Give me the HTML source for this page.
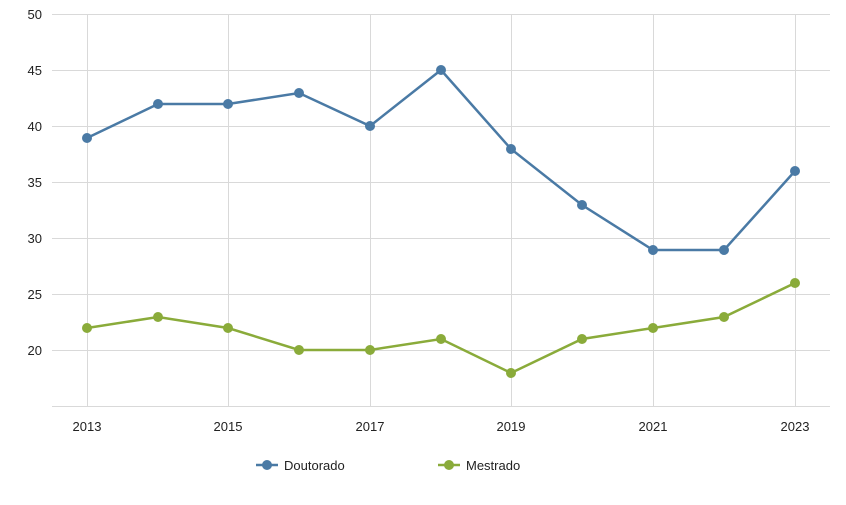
<!DOCTYPE html>
<html><head><meta charset="utf-8"><style>
body{margin:0;background:#fff}
text{font-family:"Liberation Sans",sans-serif;font-size:13px;fill:#222}
</style></head><body>
<svg width="846" height="500" xmlns="http://www.w3.org/2000/svg">
<g stroke="#d9d9d9" stroke-width="1">
<line x1="52" y1="14.5" x2="830" y2="14.5"/>
<line x1="52" y1="70.5" x2="830" y2="70.5"/>
<line x1="52" y1="126.5" x2="830" y2="126.5"/>
<line x1="52" y1="182.5" x2="830" y2="182.5"/>
<line x1="52" y1="238.5" x2="830" y2="238.5"/>
<line x1="52" y1="294.5" x2="830" y2="294.5"/>
<line x1="52" y1="350.5" x2="830" y2="350.5"/>
<line x1="52" y1="406.5" x2="830" y2="406.5"/>
<line x1="87.5" y1="14" x2="87.5" y2="406"/>
<line x1="228.5" y1="14" x2="228.5" y2="406"/>
<line x1="370.5" y1="14" x2="370.5" y2="406"/>
<line x1="511.5" y1="14" x2="511.5" y2="406"/>
<line x1="653.5" y1="14" x2="653.5" y2="406"/>
<line x1="795.5" y1="14" x2="795.5" y2="406"/>
</g>
<g text-anchor="end">
<text x="42" y="19">50</text><text x="42" y="75">45</text><text x="42" y="131">40</text>
<text x="42" y="187">35</text><text x="42" y="243">30</text><text x="42" y="299">25</text>
<text x="42" y="355">20</text>
</g>
<g text-anchor="middle">
<text x="87" y="431">2013</text><text x="228" y="431">2015</text><text x="370" y="431">2017</text>
<text x="511" y="431">2019</text><text x="653" y="431">2021</text><text x="795" y="431">2023</text>
</g>
<polyline fill="none" stroke="#4a7aa5" stroke-width="2.5" points="87,138 158,104 228,104 299,93 370,126 441,70 511,149 582,205 653,250 724,250 795,171"/>
<g fill="#4a7aa5">
<circle cx="87" cy="138" r="5"/><circle cx="158" cy="104" r="5"/><circle cx="228" cy="104" r="5"/><circle cx="299" cy="93" r="5"/><circle cx="370" cy="126" r="5"/><circle cx="441" cy="70" r="5"/><circle cx="511" cy="149" r="5"/><circle cx="582" cy="205" r="5"/><circle cx="653" cy="250" r="5"/><circle cx="724" cy="250" r="5"/><circle cx="795" cy="171" r="5"/>
</g>
<polyline fill="none" stroke="#8aab3a" stroke-width="2.5" points="87,328 158,317 228,328 299,350 370,350 441,339 511,373 582,339 653,328 724,317 795,283"/>
<g fill="#8aab3a">
<circle cx="87" cy="328" r="5"/><circle cx="158" cy="317" r="5"/><circle cx="228" cy="328" r="5"/><circle cx="299" cy="350" r="5"/><circle cx="370" cy="350" r="5"/><circle cx="441" cy="339" r="5"/><circle cx="511" cy="373" r="5"/><circle cx="582" cy="339" r="5"/><circle cx="653" cy="328" r="5"/><circle cx="724" cy="317" r="5"/><circle cx="795" cy="283" r="5"/>
</g>
<line x1="256" y1="465" x2="278" y2="465" stroke="#4a7aa5" stroke-width="2.5"/>
<circle cx="267" cy="465" r="5" fill="#4a7aa5"/>
<text x="284" y="470">Doutorado</text>
<line x1="438" y1="465" x2="460" y2="465" stroke="#8aab3a" stroke-width="2.5"/>
<circle cx="449" cy="465" r="5" fill="#8aab3a"/>
<text x="466" y="470">Mestrado</text>
</svg>
</body></html>
